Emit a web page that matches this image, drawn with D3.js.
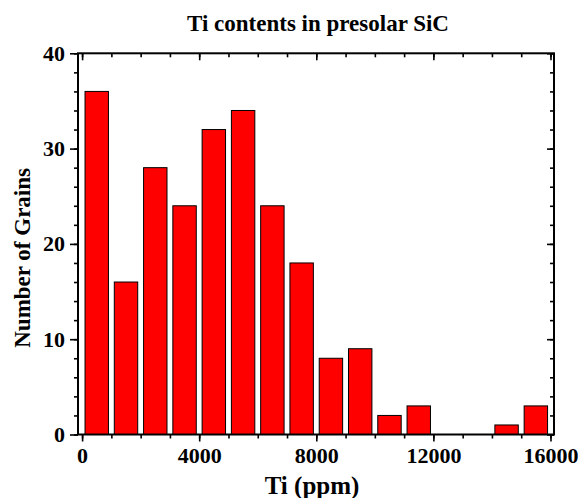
<!DOCTYPE html>
<html>
<head>
<meta charset="utf-8">
<script src="https://cdn.jsdelivr.net/npm/d3@7"></script>
<style>
  html, body { margin: 0; padding: 0; background: #fff; }
  svg { display: block; }
  text { font-family: "Liberation Serif", "Times New Roman", serif; font-weight: bold; fill: #000; }
</style>
</head>
<body>
<svg id="chart" width="583" height="498"></svg>
<script>
// ---- data ----
const binStarts = [0, 1000, 2000, 3000, 4000, 5000, 6000, 7000, 8000, 9000, 10000, 11000, 12000, 13000, 14000, 15000];
const binWidth = 1000;
const counts = [36, 16, 28, 24, 32, 34, 24, 18, 8, 9, 2, 3, 0, 0, 1, 3];
const xMajorTicks = [0, 4000, 8000, 12000, 16000];
const xMinorTicks = [0, 1000, 2000, 3000, 4000, 5000, 6000, 7000, 8000, 9000, 10000, 11000, 12000, 13000, 14000, 15000, 16000];
const yMajorTicks = [0, 10, 20, 30, 40];
const yMinorTicks = [0, 2, 4, 6, 8, 10, 12, 14, 16, 18, 20, 22, 24, 26, 28, 30, 32, 34, 36, 38, 40];
const titleText = "Ti contents in presolar SiC";
const xLabel = "Ti (ppm)";
const yLabel = "Number of Grains";

// ---- layout ----
const L = 78, R = 554, T = 53.3, B = 434.5;
const svg = d3.select("#chart");
const x = d3.scaleLinear().domain([-140, 16120]).range([L, R]);
const y = d3.scaleLinear().domain([0, 40]).range([B, T]);
const barPad = 0.1; // fraction of bin left empty on each side

// bars
const data = binStarts.map((s, i) => ({ s, c: counts[i] })).filter(d => d.c > 0);
svg.append("g").selectAll("rect").data(data).join("rect")
  .attr("x", d => x(d.s + binWidth * barPad))
  .attr("width", d => x(d.s + binWidth * (1 - barPad)) - x(d.s + binWidth * barPad))
  .attr("y", d => y(d.c))
  .attr("height", d => y(0) - y(d.c))
  .attr("fill", "#ff0000")
  .attr("stroke", "#000")
  .attr("stroke-width", 1);

function styleAxis(g) {
  g.select(".domain").remove();
  g.selectAll(".tick line").attr("stroke", "#000").attr("stroke-width", 1.6);
}

// bottom axis (outward ticks)
svg.append("g").attr("transform", `translate(0,${B})`)
  .call(d3.axisBottom(x).tickValues(xMinorTicks).tickSize(4).tickFormat(""))
  .call(styleAxis);
svg.append("g").attr("transform", `translate(0,${B})`)
  .call(d3.axisBottom(x).tickValues(xMajorTicks).tickSize(7).tickPadding(6).tickFormat(d3.format("d")))
  .call(styleAxis)
  .call(g => g.selectAll(".tick text").attr("font-size", 22).attr("font-family", "Liberation Serif").attr("font-weight", "bold").attr("fill", "#000"));

// top axis (inward ticks)
svg.append("g").attr("transform", `translate(0,${T})`)
  .call(d3.axisBottom(x).tickValues(xMinorTicks).tickSize(4).tickFormat(""))
  .call(styleAxis);
svg.append("g").attr("transform", `translate(0,${T})`)
  .call(d3.axisBottom(x).tickValues(xMajorTicks).tickSize(7).tickFormat(""))
  .call(styleAxis);

// left axis (outward ticks)
svg.append("g").attr("transform", `translate(${L},0)`)
  .call(d3.axisLeft(y).tickValues(yMinorTicks).tickSize(4).tickFormat(""))
  .call(styleAxis);
svg.append("g").attr("transform", `translate(${L},0)`)
  .call(d3.axisLeft(y).tickValues(yMajorTicks).tickSize(8).tickPadding(5).tickFormat(d3.format("d")))
  .call(styleAxis)
  .call(g => g.selectAll(".tick text").attr("font-size", 22).attr("font-family", "Liberation Serif").attr("font-weight", "bold").attr("fill", "#000"));

// right axis (inward ticks)
svg.append("g").attr("transform", `translate(${R},0)`)
  .call(d3.axisLeft(y).tickValues(yMinorTicks).tickSize(4).tickFormat(""))
  .call(styleAxis);
svg.append("g").attr("transform", `translate(${R},0)`)
  .call(d3.axisLeft(y).tickValues(yMajorTicks).tickSize(7).tickFormat(""))
  .call(styleAxis);

// frame
svg.append("rect")
  .attr("x", L).attr("y", T).attr("width", R - L).attr("height", B - T)
  .attr("fill", "none").attr("stroke", "#000").attr("stroke-width", 2);

// title & labels
svg.append("text").attr("x", 318).attr("y", 31).attr("text-anchor", "middle")
  .attr("font-size", 23).text(titleText);
svg.append("text").attr("x", 312).attr("y", 494).attr("text-anchor", "middle")
  .attr("font-size", 25).text(xLabel);
svg.append("text").attr("transform", `translate(30,${(T + B) / 2 + 14}) rotate(-90)`)
  .attr("text-anchor", "middle").attr("font-size", 23).text(yLabel);
</script>
</body>
</html>
